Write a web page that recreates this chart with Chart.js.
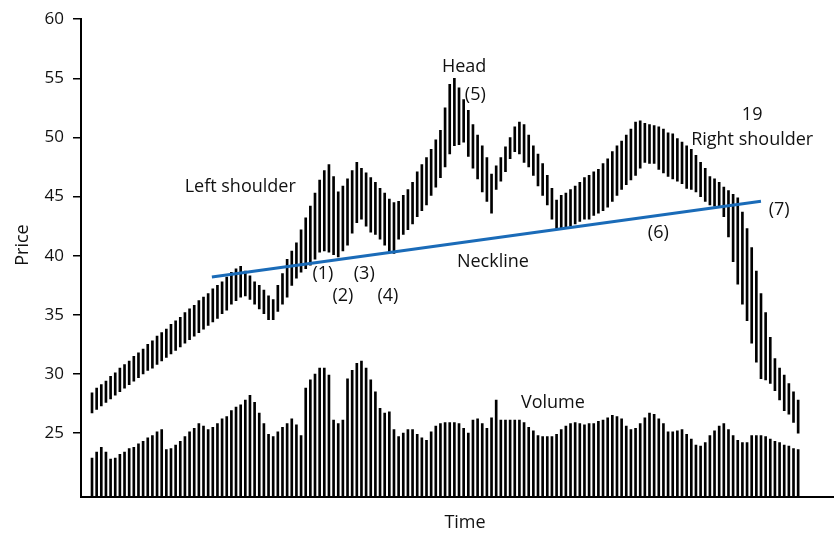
<!DOCTYPE html>
<html>
<head>
<meta charset="utf-8">
<script src="https://cdn.jsdelivr.net/npm/chart.js@4/dist/chart.umd.min.js"></script>
<style>
  html,body{margin:0;padding:0;background:#fff;}
  #wrap{width:835px;height:535px;}
</style>
</head>
<body>
<div id="wrap"><canvas id="c" width="835" height="535"></canvas></div>
<script>
// ---- data ----
const priceHigh = [
  28.4,28.8,29.1,29.4,29.8,30.1,30.5,30.8,31.1,31.5,31.8,32.1,32.5,32.8,33.2,33.5,33.8,34.2,34.5,34.8,35.2,35.5,35.8,36.2,36.5,36.8,
  37.2,37.5,37.8,38.2,38.6,38.9,39.1,38.7,38.3,37.8,37.5,37.1,36.6,36.3,37.5,38.5,39.7,40.4,41.1,42.2,43.2,44.2,45.3,46.4,47.2,47.7,
  46.7,45.4,45.9,46.5,47.2,47.9,47.4,47.0,46.6,46.2,45.7,45.3,44.8,44.5,44.6,45.1,45.6,46.2,47.1,47.7,48.3,49.0,49.8,50.6,52.5,
  54.5,55.0,54.2,53.2,52.3,51.1,50.2,49.3,48.3,46.9,47.6,48.3,49.2,50.0,50.9,51.3,51.1,50.2,49.3,48.6,47.8,46.8,45.7,44.7,45.1,45.3,
  45.6,45.9,46.2,46.6,46.8,47.1,47.3,47.8,48.2,48.8,49.3,49.7,50.2,50.7,51.3,51.4,51.2,51.1,51.0,50.9,50.7,50.4,50.3,49.9,49.6,49.3,
  49.0,48.5,47.9,47.4,46.7,46.5,46.2,45.8,45.5,45.2,44.9,43.7,42.3,40.7,38.7,36.8,35.2,33.1,31.3,30.5,29.9,29.2,28.5,27.8
];
const priceLow = [
  26.7,27.0,27.3,27.6,27.9,28.2,28.5,28.8,29.1,29.4,29.7,30.0,30.3,30.5,30.8,31.1,31.4,31.7,32.0,32.3,32.6,32.9,33.2,33.5,33.8,34.1,
  34.4,34.7,35.1,35.4,35.9,36.2,36.5,36.6,36.3,35.9,35.5,35.1,34.6,34.6,35.3,35.9,36.5,37.5,38.1,38.6,38.9,39.2,39.7,40.3,40.4,40.3,
  40.1,39.9,40.4,40.9,41.9,42.8,43.1,42.5,42.0,41.8,41.4,40.9,40.3,40.2,41.4,41.8,42.2,42.7,43.3,43.8,44.3,45.1,45.8,46.6,47.5,
  48.6,49.3,49.4,49.6,48.4,47.4,46.5,45.4,44.6,43.6,45.6,46.3,47.1,48.2,48.8,48.6,47.9,47.5,46.8,45.9,45.1,44.3,43.1,42.2,42.3,42.4,
  42.5,42.7,42.9,43.1,43.1,43.4,43.6,43.8,44.1,44.6,45.1,45.6,46.0,46.4,46.8,47.4,47.9,47.8,47.8,47.3,47.0,46.7,46.5,46.3,46.1,45.7,
  45.6,45.4,45.0,44.6,44.3,44.2,44.1,43.3,41.6,39.5,37.6,35.9,34.5,32.6,31.0,29.6,29.5,29.2,28.6,27.8,26.9,26.6,25.9,25.0
];
const volume = [
  22.9,23.4,23.8,23.4,22.8,22.9,23.2,23.4,23.7,23.8,24.1,24.3,24.6,24.8,25.1,25.3,23.6,23.7,24.0,24.3,24.7,25.1,25.4,25.8,25.6,25.3,
  25.5,25.8,26.2,26.4,26.9,27.2,27.4,27.8,28.2,27.6,26.7,25.8,24.9,24.7,25.1,25.5,25.8,26.2,25.7,24.8,28.8,29.5,30.0,30.5,30.5,29.9,
  26.1,25.8,26.1,29.6,30.3,30.9,31.1,30.5,29.5,28.5,27.1,26.7,26.8,25.3,24.7,25.0,25.3,25.3,24.9,24.6,24.4,25.1,25.6,25.8,25.9,
  25.9,25.9,25.8,25.4,25.0,26.1,26.2,25.8,25.4,26.3,27.8,26.1,26.1,26.1,26.1,26.1,25.9,25.5,25.2,24.8,24.7,24.7,24.7,24.9,25.3,25.6,
  25.8,25.9,25.8,25.7,25.8,25.8,26.0,26.1,26.3,26.5,26.4,26.2,25.6,25.3,25.4,25.8,26.3,26.7,26.6,26.2,25.8,25.1,25.1,25.2,25.3,24.9,
  24.5,24.0,23.9,24.2,24.8,25.2,25.6,25.8,25.3,24.8,24.4,24.2,24.2,24.8,24.8,24.8,24.7,24.5,24.3,24.2,24.0,23.9,23.7,23.6
];
const timeIndex = priceHigh.map((_, i) => i);
const necklineX = [25.8, 144.0];
const necklineY = [38.2, 44.6];
const yTickValues = [25, 30, 35, 40, 45, 50, 55, 60];
const labelTexts = ['Head','(5)','19','Right shoulder','Left shoulder','(7)','(6)','Neckline','(1)','(3)','(2)','(4)','Volume'];
const labelX = [80.1, 82.5, 142.1, 142.1, 31.9, 147.9, 121.9, 86.3, 49.7, 58.6, 54.0, 63.7, 99.2];
const labelY = [55.97, 53.62, 51.94, 49.76, 45.8, 43.88, 41.95, 39.52, 38.43, 38.43, 36.58, 36.58, 27.6];

const FONT = '"Open Sans", Lato, sans-serif';

const textPlugin = {
  id: 'texts',
  afterDatasetsDraw(chart) {
    const {ctx, scales} = chart;
    ctx.save();
    ctx.fillStyle = '#111';
    ctx.font = '18px ' + FONT;
    ctx.textAlign = 'center';
    ctx.textBaseline = 'middle';
    labelTexts.forEach((t, i) => {
      ctx.fillText(t, scales.x.getPixelForValue(labelX[i]), scales.y.getPixelForValue(labelY[i]));
    });
    // axis titles
    ctx.fillText('Time', 465, 523);
    ctx.translate(23, 245);
    ctx.rotate(-Math.PI / 2);
    ctx.fillText('Price', 0, 0);
    ctx.restore();
  }
};

new Chart(document.getElementById('c'), {
  type: 'bar',
  data: {
    datasets: [
      {
        type: 'line',
        data: necklineX.map((x, i) => ({x, y: necklineY[i]})),
        borderColor: '#1a6bb8',
        borderWidth: 3,
        pointRadius: 0,
        order: 0
      },
      {
        data: timeIndex.map(i => ({x: i, y: [priceLow[i], priceHigh[i]]})),
        backgroundColor: '#000',
        barThickness: 2,
        grouped: false,
        order: 1
      },
      {
        data: timeIndex.map(i => ({x: i, y: volume[i]})),
        backgroundColor: '#000',
        barThickness: 2,
        grouped: false,
        order: 1
      }
    ]
  },
  options: {
    responsive: false,
    animation: false,
    events: [],
    layout: {padding: {top: 16, right: 2, left: 0, bottom: 0}},
    plugins: {legend: {display: false}, tooltip: {enabled: false}},
    scales: {
      x: {
        type: 'linear',
        offset: false,
        min: -2.37,
        max: 159.5,
        ticks: {display: false},
        grid: {display: false, offset: false},
        border: {display: true, color: '#000', width: 2},
        afterFit(s) { s.height = 38; }
      },
      y: {
        min: 19.6,
        max: 60,
        afterBuildTicks(s) { s.ticks = yTickValues.map(v => ({value: v})); },
        ticks: {color: '#111', font: {family: FONT, size: 17}, padding: 9},
        grid: {drawOnChartArea: false, drawTicks: true, tickLength: 8, color: '#000', lineWidth: 1.5},
        border: {display: true, color: '#000', width: 2},
        afterFit(s) { s.width = 81; }
      }
    }
  },
  plugins: [textPlugin]
});
</script>
</body>
</html>
